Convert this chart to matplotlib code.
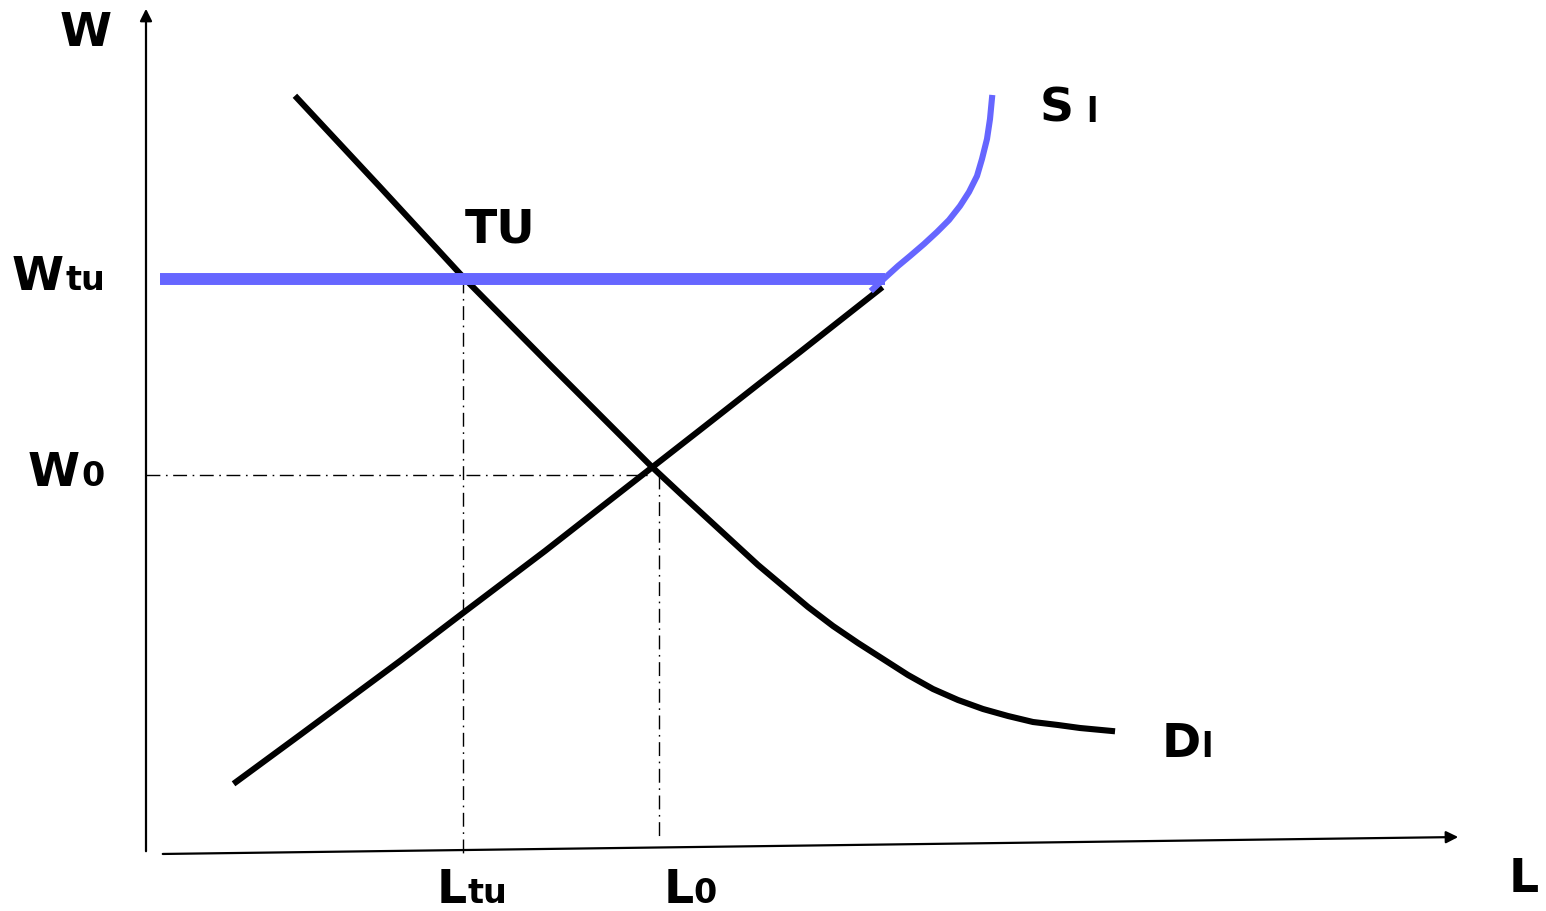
import matplotlib
matplotlib.use("Agg")
import matplotlib.pyplot as plt

plt.rcParams["font.family"] = "DejaVu Sans"

BLUE = "#6666ff"

# curves, in pixel coordinates (y grows downwards)
demand_x = [297, 380, 463, 550, 652, 683, 708, 733, 758, 783, 808, 833, 858, 883, 908,
            933, 958, 983, 1008, 1033, 1058, 1080, 1112]
demand_y = [99, 188, 278, 366, 468, 497, 520, 543, 566, 587, 608, 627, 644, 660, 676,
            690, 701, 710, 717, 723, 726, 729, 732]

supply_x = [236, 300, 400, 463, 545, 600, 650, 700, 760, 800, 880]
supply_y = [783, 736, 662, 614, 552, 509, 470, 431, 384, 353, 290]

supply_top_x = [873, 887, 898, 910, 924, 937, 949, 960, 969, 977, 982, 987, 990, 992]
supply_top_y = [290, 277, 267, 257, 245, 233, 221, 207, 193, 177, 160, 140, 120, 99]

w_tu = 280
w_0 = 476
l_tu = 463
l_0 = 659
union_end = 885

fig = plt.figure(figsize=(15.46, 9.12), dpi=100)
ax = fig.add_axes([0, 0, 1, 1])
ax.set_xlim(0, 1546)
ax.set_ylim(912, 0)
ax.axis("off")

# axes with arrows
ax.annotate("", xy=(146, 7), xytext=(146, 855),
            arrowprops=dict(arrowstyle="-|>", lw=1.6, color="black", mutation_scale=18))
ax.annotate("", xy=(1461, 838), xytext=(160, 855),
            arrowprops=dict(arrowstyle="-|>", lw=1.6, color="black", mutation_scale=18))

# guide lines
dd = (0, (10, 4, 1.2, 4))
ax.plot([146, 650], [w_0, w_0], color="black", lw=1, linestyle=dd)
ax.plot([l_tu, l_tu], [w_tu, 855], color="black", lw=1, linestyle=dd)
ax.plot([l_0, l_0], [w_0, 840], color="black", lw=1, linestyle=dd)

# curves
ax.plot(demand_x, demand_y, color="black", lw=4.4, solid_joinstyle="round")
ax.plot(supply_x, supply_y, color="black", lw=4.4, solid_joinstyle="round")
ax.plot([160, union_end], [w_tu, w_tu], color=BLUE, lw=8.6, solid_capstyle="butt")
ax.plot(supply_top_x, supply_top_y, color=BLUE, lw=4.4, solid_joinstyle="round")


def label(x, y, main, sub=None, sub_dx=0):
    t = dict(fontsize=34, fontweight="bold", va="baseline", ha="left")
    ax.text(x, y, main, **t)
    if sub:
        ax.text(x + sub_dx, y, sub, fontsize=24, fontweight="bold", va="baseline", ha="left")


label(60, 46, "W")
label(12, 290, "W", "tu", 54)
label(28, 486, "W", "0", 53)
label(437, 903, "L", "tu", 30)
label(664, 903, "L", "0", 29)
label(465, 243, "TU")
label(1040, 122, "S", "l", 46)
label(1162, 757, "D", "l", 39)
label(1509, 892, "L")

fig.savefig("out.png", dpi=100)
